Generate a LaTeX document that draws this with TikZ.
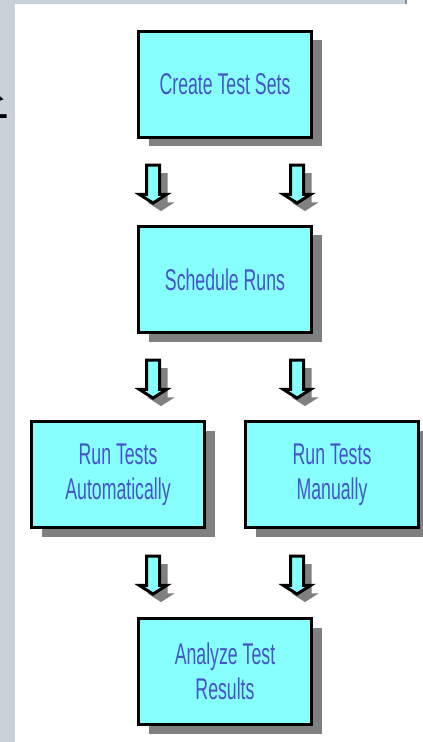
\documentclass[tikz,border=0pt]{standalone}
\usepackage{fontspec}
\setmainfont{Liberation Sans}
\newfontfamily\narrowfont{Liberation Sans}[FakeStretch=0.59]
\newfontfamily\cjkfont{Noto Sans CJK SC}
\usetikzlibrary{positioning,shapes.arrows,shadows,calc}
\definecolor{boxcyan}{RGB}{136,255,255}
\definecolor{textblue}{RGB}{68,85,204}
\definecolor{slidegray}{RGB}{200,210,216}
\definecolor{shadegray}{RGB}{128,128,128}
\definecolor{edgeteal}{RGB}{120,150,150}

\begin{document}
\begin{tikzpicture}[
        boxnode/.style={rectangle, draw=black, fill=boxcyan, line width=1.5pt, minimum width=86.5pt, minimum height=53pt, align=center, text=textblue, font=\narrowfont\fontsize{15}{17.5}\selectfont, drop shadow={shadow xshift=5pt, shadow yshift=-4.5pt, fill=shadegray, opacity=1}},
        downarrow/.style={single arrow, shape border rotate=270, draw=black, fill=boxcyan, line width=1.5pt, inner sep=2.5pt, single arrow head extend=3.5pt, single arrow tip angle=115, minimum height=19pt, drop shadow={shadow xshift=4pt, shadow yshift=-4pt, fill=shadegray, opacity=1}},
        node distance=43pt
        ]
        % slide background, glyph half hidden behind the white panel
        \useasboundingbox (0,0) rectangle (211pt,-371pt);
        \fill[slidegray] (0,0) rectangle (211pt,-371pt);
        \node[anchor=base west, inner sep=0pt, font=\cjkfont\fontsize{27}{27}\selectfont] (c_0) at (-22.5pt,-70.6pt) {析};
        \fill[white] (7.5pt,-2pt) rectangle (211pt,-371pt);
        \fill[white] (203.5pt,0) rectangle (211pt,-2pt);
        \fill[edgeteal] (202.5pt,0) rectangle (203.5pt,-2pt);

        \node[boxnode]  (b_0) [anchor=north] at (112.5pt,-15pt)          {Create Test Sets};
        \node[boxnode]  (b_1) [below                =of b_0]             {Schedule Runs};
        \node[boxnode]  (b_2) [below left =43pt and 9.5pt of b_1.south]  {Run Tests\\Automatically};
        \node[boxnode]  (b_3) [below right=43pt and 9.5pt of b_1.south] {Run Tests\\Manually};
        \node[boxnode]  (b_4) [below right=44pt and 9.5pt of b_2.south east, anchor=north] {Analyze Test\\Results};

        \node[downarrow] (a_0) at ($(b_0.south)!0.5!(b_1.north)+(-36pt,0)$) {};
        \node[downarrow] (a_1) at ($(b_0.south)!0.5!(b_1.north)+(36pt,0)$)  {};
        \node[downarrow] (a_2) at ($(b_1.south)!0.5!(b_1.south |- b_2.north)+(-36pt,0)$) {};
        \node[downarrow] (a_3) at ($(b_1.south)!0.5!(b_1.south |- b_2.north)+(36pt,0)$)  {};
        \node[downarrow] (a_4) at ($(b_4.north)!0.5!(b_4.north |- b_2.south)+(-36pt,0)$) {};
        \node[downarrow] (a_5) at ($(b_4.north)!0.5!(b_4.north |- b_2.south)+(36pt,0)$)  {};
    \end{tikzpicture}
\end{document}
